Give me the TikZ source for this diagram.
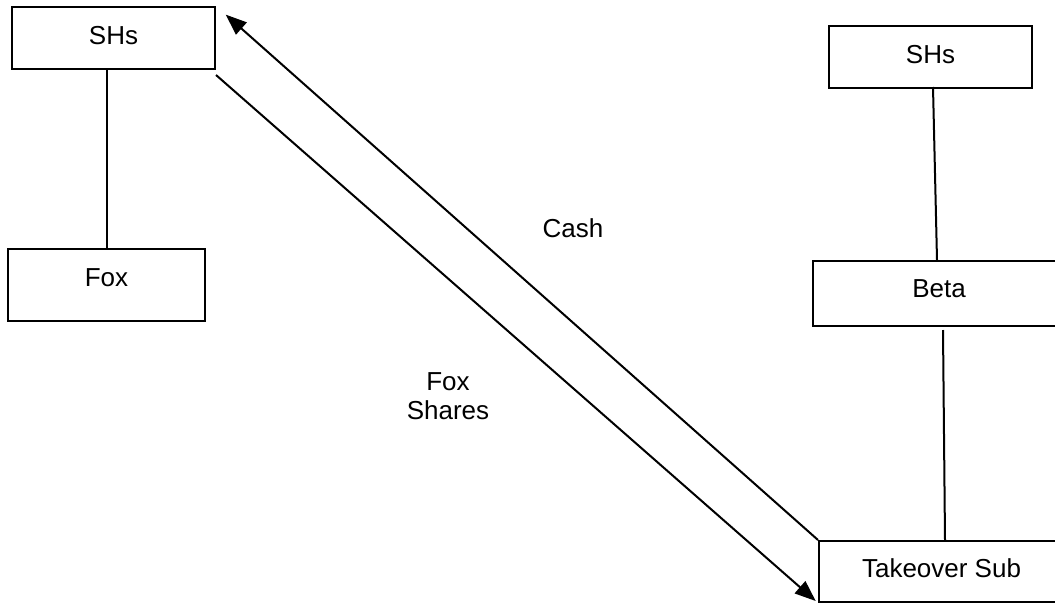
\documentclass[tikz,border=0pt]{standalone}
\usepackage{fontspec}
\setmainfont{Liberation Sans}
\usepackage{tikz}
\usetikzlibrary{arrows.meta}

\begin{document}
\begin{tikzpicture}[x=1pt, y=-1pt,
    box/.style={draw, line width=2pt, rectangle, inner sep=0pt,
      text height=19pt, text depth=7pt, font=\fontsize{26}{29}\selectfont},
    link/.style={line width=2pt},
    flow/.style={line width=2pt, -{Triangle[length=21pt,width=16pt]}},
    tag/.style={align=center, font=\fontsize{26}{29}\selectfont}]
  \useasboundingbox (0,0) rectangle (1055,603);
  % Fox side
  \node[box, minimum width=203pt, minimum height=62pt] (shsL) at (113.5,38) {SHs};
  \node[box, minimum width=197pt, minimum height=72pt, text depth=16pt] (fox) at (106.5,285) {Fox};
  \draw[link] (fox.north) -- (fox.north |- shsL.south);
  % Beta side
  \node[box, minimum width=203pt, minimum height=62pt] (shsR) at (930.5,57) {SHs};
  \node[box, minimum width=252pt, minimum height=65pt, text depth=11pt] (beta) at (939,293.5) {Beta};
  \node[box, minimum width=245pt, minimum height=61pt] (sub) at (941.5,571.5) {Takeover Sub};
  \draw[link] ([xshift=2.5pt,yshift=2pt]shsR.south) -- ([xshift=-2pt]beta.north);
  \draw[link] ([xshift=4pt,yshift=-3pt]beta.south) -- ([xshift=3.5pt]sub.north);
  % Exchange
  \draw[flow, shorten >=13pt] (sub.north west) -- (shsL.north east);
  \draw[flow, shorten >=3pt] ([yshift=-5pt]shsL.south east) -- (sub.south west);
  \node[tag] (cash) at (573,228) {Cash};
  \node[tag] (shares) at (448,396) {Fox\\Shares};
\end{tikzpicture}
\end{document}
